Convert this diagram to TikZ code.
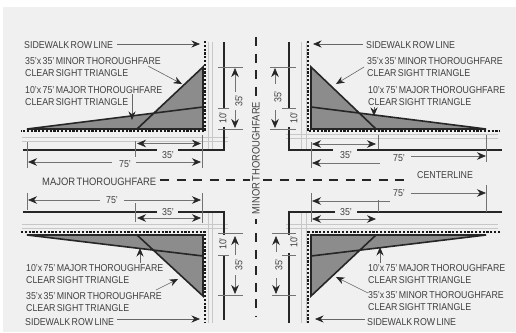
\documentclass[tikz,border=0pt]{standalone}
\usepackage{fontspec}
\setmainfont[FakeStretch=.88, WordSpace=.55]{Liberation Sans}
\usetikzlibrary{arrows.meta}

\begin{document}
\begin{tikzpicture}[x=1pt, y=-1pt,
			curb/.style={line width=1.6pt, draw=black!85, line join=miter},
			sidewalk/.style={line width=.7pt, draw=black!22},
			rowline/.style={line width=2.6pt, draw=black!90, dash pattern=on 2.2pt off 1.6pt},
			centerline/.style={line width=2pt, draw=black!85, dash pattern=on 9pt off 7.5pt},
			sight/.style={fill=black!45, line width=1.6pt, line join=miter},
			sightedge/.style={draw=black!85, line width=1.6pt, line join=miter},
			tick/.style={line width=.6pt, draw=black!55},
			dimarrow/.style={line width=.6pt, draw=black!55, -{Stealth[length=9pt, width=7.5pt, black!85]}},
			leader/.style={line width=.6pt, draw=black!60, -{Stealth[length=8.5pt, width=7pt, black!85]}},
			label/.style={text=black!75, font=\fontsize{10}{12}\selectfont, inner sep=0pt, anchor=west, align=left},
			roadname/.style={label, font=\fontsize{10.7}{12}\selectfont},
			dimlabel/.style={text=black!75, font=\fontsize{10}{10}\selectfont, inner sep=0pt}]

	\useasboundingbox (0,0) rectangle (516,332);
	\fill[black!6] (3,7) rectangle (516,332);

	% sidewalks
	\draw[sidewalk] (22,137) -- (228,137) (22,141) -- (228,141) (208,42) -- (208,150) (212,42) -- (212,150);
	\draw[sidewalk] (286,134) -- (498,134) (286,138) -- (498,138) (301,42) -- (301,150) (306,42) -- (306,150);
	\draw[sidewalk] (22,224) -- (228,224) (22,228) -- (228,228) (208,212) -- (208,323) (212,212) -- (212,323);
	\draw[sidewalk] (286,224) -- (498,224) (286,228) -- (498,228) (301,212) -- (301,323) (306,212) -- (306,323);

	% sight triangles
	\fill[sight] (27,129) -- (203,129) -- (203,107) -- cycle (137,129) -- (203,129) -- (203,67) -- cycle;
	\draw[sightedge] (27,129) -- (203,129) -- (203,107) -- cycle (137,129) -- (203,67) -- (203,107);
	\fill[sight] (486,129) -- (311,129) -- (311,107) -- cycle (376,129) -- (311,129) -- (311,67) -- cycle;
	\draw[sightedge] (486,129) -- (311,129) -- (311,107) -- cycle (376,129) -- (311,67) -- (311,107);
	\fill[sight] (27,235) -- (203,235) -- (203,256) -- cycle (137,235) -- (203,235) -- (203,296) -- cycle;
	\draw[sightedge] (27,235) -- (203,235) -- (203,256) -- cycle (137,235) -- (203,296) -- (203,256);
	\fill[sight] (486,235) -- (311,235) -- (311,256) -- cycle (376,235) -- (311,235) -- (311,296) -- cycle;
	\draw[sightedge] (486,235) -- (311,235) -- (311,256) -- cycle (376,235) -- (311,296) -- (311,256);

	% row lines
	\draw[rowline] (205,41) -- (205,131) -- (21,131);
	\draw[rowline] (308,41) -- (308,131) -- (500,131);
	\draw[rowline] (21,232) -- (205,232) -- (205,323);
	\draw[rowline] (500,232) -- (308,232) -- (308,323);

	% curbs
	\draw[curb] (224,42) -- (224,108) (224,127) -- (224,150) -- (178,150) (157,150) -- (23,150);
	\draw[curb] (289,42) -- (289,108) (289,127) -- (289,150) -- (333,150) (357,150) -- (502,150);
	\draw[curb] (23,212) -- (157,212) (178,212) -- (224,212) -- (224,235) (224,255) -- (224,320);
	\draw[curb] (502,212) -- (357,212) (335,212) -- (289,212) -- (289,235) (289,253) -- (289,323);

	% center lines
	\draw[centerline] (256,37) -- (256,98);
	\draw[centerline] (256,233) -- (256,317);
	\draw[line width=2pt, draw=black!85] (256,219) -- (256,224);
	\draw[centerline] (160,179.5) -- (250,179.5);
	\draw[centerline] (263,179.5) -- (408,179.5);

	\node[roadname, anchor=center, rotate=90] (minorName) at (256,158) {MINOR THOROUGHFARE};
	\node[roadname] (majorName) at (42,182) {MAJOR THOROUGHFARE};
	\node[label] (centerName) at (417,175) {CENTERLINE};

	% top left
	\node[label] (rowTL) at (24,45) {SIDEWALK ROW LINE};
	\node[label] (minorTL) at (25,67) {35'x 35' MINOR THOROUGHFARE\\CLEAR SIGHT TRIANGLE};
	\node[label] (majorTL) at (25,96) {10'x 75' MAJOR THOROUGHFARE\\CLEAR SIGHT TRIANGLE};
	\draw[leader] (117,44) -- (200,44);
	\draw[leader] (148,66) -- (182,84);
	\draw[leader] (132,94) -- (132,120);

	\draw[tick] (218,67) -- (243,67) (218,108) -- (229,108) (218,129) -- (243,129);
	\draw[tick] (135,141) -- (135,157) (202,135) -- (202,168) (27,142) -- (27,168);
	\draw[dimarrow] (235,92) -- (235,68);
	\draw[dimarrow] (235,110) -- (235,128);
	\node[dimlabel, rotate=90] (depthTL) at (239,101) {35'};
	\node[dimlabel, rotate=90] (setbackTL) at (223,118) {10'};
	\draw[dimarrow] (170,143.5) -- (137,143.5);
	\draw[dimarrow] (170,143.5) -- (201,143.5);
	\node[dimlabel] (shortTL) at (168,155) {35'};
	\draw[dimarrow] (112,162) -- (28,162);
	\draw[dimarrow] (136,162) -- (201,162);
	\node[dimlabel] (longTL) at (125,164) {75'};

	% top right
	\node[label] (rowTR) at (366,45) {SIDEWALK ROW LINE};
	\node[label] (minorTR) at (367,67) {35'x 35' MINOR THOROUGHFARE\\CLEAR SIGHT TRIANGLE};
	\node[label] (majorTR) at (368,96) {10'x 75' MAJOR THOROUGHFARE\\CLEAR SIGHT TRIANGLE};
	\draw[leader] (363,44) -- (313,44);
	\draw[leader] (364,67) -- (336,84);
	\draw[leader] (374,107) -- (374,116);

	\draw[tick] (270,67) -- (296,67) (282,108) -- (296,108) (270,129) -- (296,129);
	\draw[tick] (378,135) -- (378,149) (486,135) -- (486,162) (311,142) -- (311,168);
	\draw[dimarrow] (275,84) -- (275,68);
	\draw[dimarrow] (275,110) -- (275,128);
	\node[dimlabel, rotate=90] (depthTR) at (278,97) {35'};
	\node[dimlabel, rotate=90] (setbackTR) at (294,118) {10'};
	\draw[dimarrow] (344,144) -- (312,144);
	\draw[dimarrow] (344,144) -- (376,144);
	\node[dimlabel] (shortTR) at (346,155) {35'};
	\draw[dimarrow] (411,156) -- (486,156);
	\node[dimlabel] (longTR) at (399,158) {75'};
	\draw[dimarrow] (380,163) -- (312,163);

	% bottom left
	\node[label] (majorBL) at (26,274) {10'x 75' MAJOR THOROUGHFARE\\CLEAR SIGHT TRIANGLE};
	\node[label] (minorBL) at (26,302) {35'x 35' MINOR THOROUGHFARE\\CLEAR SIGHT TRIANGLE};
	\node[label] (rowBL) at (25,322) {SIDEWALK ROW LINE};
	\draw[leader] (117,319) -- (200,319);
	\draw[leader] (156,290) -- (178,279);
	\draw[leader] (140,263) -- (140,248);

	\draw[tick] (218,233) -- (243,233) (218,255) -- (229,255) (218,295) -- (243,295);
	\draw[tick] (135,203) -- (135,222) (202,193) -- (202,223) (27,193) -- (27,210);
	\draw[dimarrow] (235,255) -- (235,236);
	\draw[dimarrow] (235,275) -- (235,294);
	\node[dimlabel, rotate=90] (depthBL) at (239,265) {35'};
	\node[dimlabel, rotate=90] (setbackBL) at (223,244) {10'};
	\draw[dimarrow] (170,218) -- (137,218);
	\draw[dimarrow] (170,218) -- (201,218);
	\node[dimlabel] (shortBL) at (168,212) {35'};
	\draw[dimarrow] (100,200) -- (28,200);
	\draw[dimarrow] (124,200) -- (201,200);
	\node[dimlabel] (longBL) at (112,200) {75'};

	% bottom right
	\node[label] (majorBR) at (368,274) {10'x 75' MAJOR THOROUGHFARE\\CLEAR SIGHT TRIANGLE};
	\node[label] (minorBR) at (368,301) {35'x 35' MINOR THOROUGHFARE\\CLEAR SIGHT TRIANGLE};
	\node[label] (rowBR) at (367,322) {SIDEWALK ROW LINE};
	\draw[leader] (365,319) -- (315,319);
	\draw[leader] (368,293) -- (336,277);
	\draw[leader] (380,263) -- (380,247);

	\draw[tick] (272,233) -- (296,233) (282,255) -- (296,255) (272,295) -- (296,295);
	\draw[tick] (378,200) -- (378,212) (486,185) -- (486,212) (311,193) -- (311,222);
	\draw[dimarrow] (276,252) -- (276,236);
	\draw[dimarrow] (276,278) -- (276,294);
	\node[dimlabel, rotate=90] (depthBR) at (279,265) {35'};
	\node[dimlabel, rotate=90] (setbackBR) at (294,242) {10'};
	\draw[dimarrow] (344,219) -- (312,219);
	\draw[dimarrow] (344,219) -- (376,219);
	\node[dimlabel] (shortBR) at (346,212) {35'};
	\draw[dimarrow] (411,193) -- (486,193);
	\node[dimlabel] (longBR) at (399,193) {75'};
	\draw[dimarrow] (390,201) -- (312,201);
\end{tikzpicture}
\end{document}
